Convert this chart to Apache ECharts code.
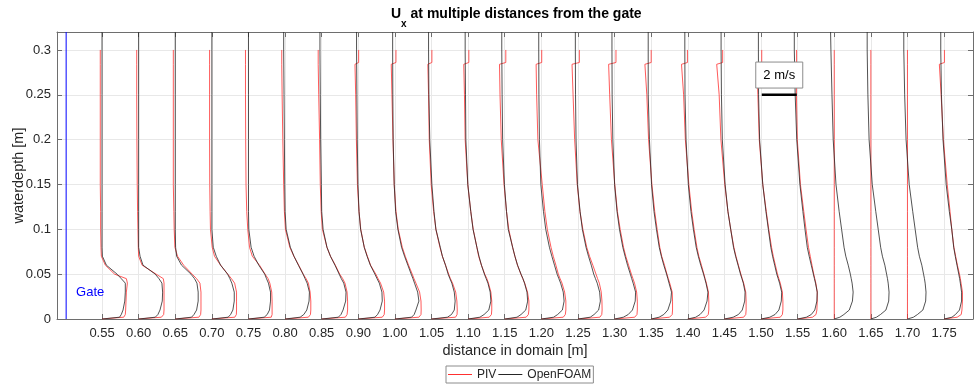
<!DOCTYPE html>
<html>
<head>
<meta charset="utf-8">
<script src="https://cdn.jsdelivr.net/npm/echarts@6/dist/echarts.min.js"></script>
<style>
  html, body { margin: 0; padding: 0; background: #fff; }
  #chart { width: 974px; height: 387px; }
</style>
</head>
<body>
<div id="chart"></div>
<script>
// stations, as printed under the x axis (one profile per station)
const stationLabels = ['0.55', '0.60', '0.65', '0.70', '0.75', '0.80', '0.85', '0.90', '1.00', '1.05', '1.10', '1.15',
  '1.20', '1.25', '1.30', '1.35', '1.40', '1.45', '1.50', '1.55', '1.60', '1.65', '1.70', '1.75']
const yTicks = [0, 0.05, 0.1, 0.15, 0.2, 0.25, 0.3]

// waterdepth levels [m]
const depthOF = [0, 0.002, 0.005, 0.01, 0.02, 0.03, 0.04, 0.045, 0.05, 0.06, 0.07, 0.08, 0.1, 0.12, 0.15, 0.2, 0.25, 0.3, 0.32]
const depthPIV = [0, 0.002, 0.005, 0.01, 0.02, 0.03, 0.04, 0.045, 0.05, 0.06, 0.07, 0.08, 0.1, 0.12, 0.15, 0.2, 0.25, 0.284, 0.286, 0.3]

// Ux [m/s] OpenFOAM, one row per station
const uOpenFOAM = [
  [0, 1.0, 1.1, 1.2, 1.3, 1.33, 1.33, 1.1, 0.86, 0.25, 0.02, 0, 0, 0, 0, 0, 0, 0, 0],
  [0, 0.95, 1.1, 1.22, 1.35, 1.37, 1.33, 1.16, 0.95, 0.25, 0.08, 0, 0, 0, 0, 0, 0, 0, 0],
  [0, 0.93, 1.07, 1.22, 1.31, 1.31, 1.24, 1.1, 0.9, 0.36, 0.08, 0.02, 0, 0, 0, 0, 0, 0, 0],
  [0, 0.93, 1.07, 1.2, 1.28, 1.28, 1.14, 1.03, 0.9, 0.5, 0.25, 0.08, 0, 0, 0, 0, 0, 0, 0],
  [0, 0.9, 1.07, 1.2, 1.26, 1.26, 1.14, 1.03, 0.93, 0.59, 0.32, 0.15, 0.02, 0, 0, 0, 0, 0, 0],
  [0, 0.86, 1.07, 1.24, 1.37, 1.39, 1.26, 1.14, 1.03, 0.76, 0.51, 0.3, 0.06, 0, -0.02, -0.04, -0.06, -0.08, -0.08],
  [0, 0.95, 1.1, 1.22, 1.37, 1.39, 1.26, 1.12, 1.0, 0.76, 0.5, 0.3, 0.08, 0, -0.02, -0.06, -0.08, -0.1, -0.1],
  [0, 0.95, 1.1, 1.24, 1.37, 1.35, 1.2, 1.07, 0.95, 0.69, 0.5, 0.34, 0.13, 0.04, -0.02, -0.06, -0.08, -0.1, -0.1],
  [0, 0.95, 1.1, 1.2, 1.37, 1.3, 1.12, 1.03, 0.93, 0.74, 0.55, 0.38, 0.17, 0.04, -0.04, -0.1, -0.12, -0.13, -0.13],
  [0, 0.91, 1.14, 1.3, 1.35, 1.3, 1.16, 1.05, 0.95, 0.8, 0.62, 0.5, 0.25, 0.14, 0.02, -0.1, -0.15, -0.17, -0.17],
  [0, 0.67, 0.91, 1.18, 1.3, 1.26, 1.13, 1.03, 0.93, 0.76, 0.62, 0.5, 0.28, 0.15, -0.02, -0.13, -0.15, -0.17, -0.17],
  [0, 0.7, 0.93, 1.2, 1.31, 1.27, 1.13, 1.04, 0.93, 0.73, 0.58, 0.45, 0.2, 0.1, -0.02, -0.12, -0.15, -0.17, -0.17],
  [0, 0.7, 0.93, 1.2, 1.3, 1.25, 1.1, 1.0, 0.9, 0.75, 0.6, 0.46, 0.25, 0.12, -0.03, -0.11, -0.14, -0.15, -0.15],
  [0, 0.7, 0.92, 1.18, 1.28, 1.24, 1.1, 1.0, 0.9, 0.76, 0.6, 0.46, 0.25, 0.12, -0.03, -0.11, -0.14, -0.15, -0.15],
  [0, 0.5, 0.78, 1.02, 1.18, 1.2, 1.06, 0.98, 0.9, 0.74, 0.6, 0.47, 0.28, 0.14, 0, -0.1, -0.14, -0.15, -0.15],
  [0, 0.45, 0.72, 0.95, 1.12, 1.16, 1.02, 0.95, 0.88, 0.72, 0.58, 0.46, 0.3, 0.16, 0.02, -0.1, -0.17, -0.17, -0.17],
  [0, 0.45, 0.7, 0.93, 1.1, 1.15, 1.04, 0.97, 0.9, 0.74, 0.6, 0.48, 0.32, 0.18, 0.03, -0.1, -0.16, -0.17, -0.17],
  [0, 0.5, 0.8, 1.02, 1.16, 1.18, 1.08, 1.0, 0.92, 0.78, 0.64, 0.52, 0.36, 0.2, 0.04, -0.12, -0.17, -0.19, -0.19],
  [0, 0.5, 0.8, 1.02, 1.16, 1.18, 1.06, 0.98, 0.9, 0.78, 0.66, 0.56, 0.42, 0.28, 0.1, -0.08, -0.14, -0.15, -0.15],
  [0, 0.5, 0.78, 0.98, 1.1, 1.12, 1.02, 0.96, 0.9, 0.78, 0.66, 0.55, 0.42, 0.3, 0.13, -0.05, -0.14, -0.19, -0.19],
  [0, 0.32, 0.55, 0.86, 1.04, 1.08, 1.02, 0.97, 0.92, 0.8, 0.66, 0.56, 0.42, 0.28, 0.1, -0.06, -0.13, -0.19, -0.21],
  [0, 0.32, 0.55, 0.86, 1.02, 1.04, 0.99, 0.95, 0.9, 0.8, 0.66, 0.56, 0.42, 0.28, 0.08, -0.1, -0.17, -0.21, -0.21],
  [0, 0.34, 0.57, 0.88, 1.04, 1.06, 1.01, 0.97, 0.92, 0.82, 0.68, 0.58, 0.44, 0.3, 0.1, -0.08, -0.16, -0.21, -0.21],
  [0, 0.45, 0.65, 0.88, 1.0, 1.0, 0.93, 0.89, 0.84, 0.74, 0.64, 0.55, 0.44, 0.3, 0.12, -0.06, -0.15, -0.19, -0.19]
]

// Ux [m/s] PIV, one row per station (stations 1.60-1.70 have no PIV data)
const uPIV = [
  [0, 1.24, 1.33, 1.35, 1.37, 1.39, 1.45, 1.39, 0.72, 0.19, -0.04, -0.06, -0.08, -0.08, -0.1, -0.1, -0.1, -0.1, -0.1, -0.1],
  [0, 1.3, 1.43, 1.45, 1.45, 1.45, 1.45, 1.41, 1.0, 0.2, 0, -0.02, -0.04, -0.06, -0.08, -0.1, -0.11, -0.11, -0.11, -0.11],
  [0, 1.35, 1.45, 1.47, 1.47, 1.47, 1.41, 1.22, 0.97, 0.48, 0.13, -0.02, -0.06, -0.08, -0.11, -0.11, -0.11, -0.11, -0.11, -0.11],
  [0, 1.31, 1.4, 1.41, 1.41, 1.41, 1.3, 1.12, 0.91, 0.5, 0.15, 0.02, -0.08, -0.1, -0.12, -0.13, -0.13, -0.13, -0.13, -0.13],
  [0, 1.3, 1.35, 1.35, 1.35, 1.33, 1.22, 1.12, 0.95, 0.63, 0.22, 0.06, -0.04, -0.1, -0.14, -0.16, -0.17, -0.17, -0.17, -0.17],
  [0, 1.33, 1.45, 1.47, 1.47, 1.43, 1.33, 1.2, 1.03, 0.78, 0.5, 0.27, 0.02, -0.04, -0.08, -0.13, -0.17, -0.19, -0.19, -0.19],
  [0, 1.35, 1.45, 1.48, 1.48, 1.45, 1.33, 1.2, 1.03, 0.78, 0.5, 0.3, 0.04, -0.03, -0.08, -0.12, -0.17, -0.2, -0.2, -0.2],
  [0, 1.37, 1.48, 1.5, 1.5, 1.45, 1.27, 1.13, 1.0, 0.7, 0.52, 0.34, 0.14, 0.04, -0.05, -0.11, -0.15, -0.19, 0.02, 0.02],
  [0, 1.37, 1.49, 1.5, 1.49, 1.41, 1.2, 1.09, 0.99, 0.78, 0.59, 0.42, 0.19, 0.06, -0.04, -0.11, -0.17, -0.21, 0.06, 0.06],
  [0, 1.37, 1.46, 1.47, 1.45, 1.38, 1.2, 1.08, 0.98, 0.8, 0.62, 0.48, 0.25, 0.12, -0.02, -0.13, -0.17, -0.21, 0.02, 0.02],
  [0, 1.2, 1.33, 1.35, 1.35, 1.3, 1.16, 1.07, 0.95, 0.76, 0.6, 0.5, 0.29, 0.15, -0.02, -0.17, -0.21, -0.25, 0.04, 0.04],
  [0, 1.22, 1.35, 1.38, 1.38, 1.3, 1.14, 1.03, 0.92, 0.73, 0.58, 0.45, 0.23, 0.1, -0.04, -0.2, -0.27, -0.3, 0.06, 0.06],
  [0, 1.25, 1.37, 1.4, 1.4, 1.33, 1.18, 1.07, 0.97, 0.83, 0.68, 0.55, 0.34, 0.2, 0.05, -0.2, -0.27, -0.3, 0.02, 0.02],
  [0, 1.25, 1.36, 1.38, 1.37, 1.33, 1.22, 1.12, 1.03, 0.85, 0.66, 0.5, 0.28, 0.11, -0.04, -0.19, -0.28, -0.34, 0.08, 0.08],
  [0, 1.15, 1.28, 1.3, 1.3, 1.26, 1.14, 1.05, 0.96, 0.8, 0.64, 0.51, 0.32, 0.16, 0.01, -0.18, -0.28, -0.34, 0.08, 0.08],
  [0, 1.05, 1.2, 1.22, 1.22, 1.2, 1.06, 0.98, 0.9, 0.76, 0.6, 0.49, 0.34, 0.2, 0.04, -0.15, -0.25, -0.36, 0, 0],
  [0, 1.02, 1.17, 1.2, 1.2, 1.18, 1.06, 0.99, 0.92, 0.78, 0.63, 0.52, 0.36, 0.22, 0.06, -0.14, -0.24, -0.36, -0.02, -0.02],
  [0, 1.1, 1.22, 1.24, 1.24, 1.22, 1.1, 1.02, 0.94, 0.8, 0.66, 0.54, 0.36, 0.2, 0.02, -0.2, -0.3, -0.44, -0.1, -0.1],
  [0, 1.1, 1.22, 1.25, 1.25, 1.22, 1.1, 1.02, 0.94, 0.82, 0.7, 0.6, 0.44, 0.3, 0.1, -0.1, -0.18, -0.24, 0.04, 0.04],
  [0, 0.85, 1.05, 1.1, 1.12, 1.12, 1.04, 0.98, 0.92, 0.82, 0.72, 0.62, 0.48, 0.35, 0.16, -0.02, -0.07, -0.06, -0.06, -0.06],
  [0, 0, 0, 0, 0, 0, 0, 0, 0, 0, 0, 0, 0, 0, 0, 0, 0, 0, 0, 0],
  [0, 0, 0, 0, 0, 0, 0, 0, 0, 0, 0, 0, 0, 0, 0, 0, 0, 0, 0, 0],
  [0, 0, 0, 0, 0, 0, 0, 0, 0, 0, 0, 0, 0, 0, 0, 0, 0, 0, 0, 0],
  [0, 0.75, 0.98, 1.02, 1.05, 1.05, 0.97, 0.93, 0.88, 0.76, 0.66, 0.56, 0.44, 0.34, 0.18, -0.04, -0.17, -0.27, 0.02, 0.02]
]

const speedScale = 0.478      // station spacings per 1 m/s
const scaleBarSpeed = 2        // m/s
const scaleBarAt = [18.02, 0.25]
const gateStation = -0.98
const fontFamily = '"Liberation Sans", Arial, Helvetica, sans-serif'
const textColor = '#262626'
const axisColor = '#6e6e6e'
const pivColor = '#ff3030'
const ofColor = '#262626'

const chart = echarts.init(document.getElementById('chart'))

let stationIdx = stationLabels.map((s, i) => i)
let series = []
stationLabels.forEach((label, i) => {
  series.push({
    name: 'PIV',
    type: 'line',
    symbol: 'none',
    silent: true,
    z: 3,
    lineStyle: { color: pivColor, width: 0.8 },
    itemStyle: { color: pivColor },
    data: depthPIV.map((y, k) => [i + uPIV[i][k] * speedScale, y])
  })
  series.push({
    name: 'OpenFOAM',
    type: 'line',
    symbol: 'none',
    silent: true,
    z: 4,
    lineStyle: { color: ofColor, width: 0.8 },
    itemStyle: { color: ofColor },
    data: depthOF.map((y, k) => [i + uOpenFOAM[i][k] * speedScale, y])
  })
})
// gate
series.push({
  type: 'line', symbol: 'none', silent: true, z: 5,
  lineStyle: { color: '#0000ff', width: 1 },
  data: [[gateStation, 0], [gateStation, 0.32]]
})
// 2 m/s scale bar
series.push({
  type: 'line', symbol: 'none', silent: true, z: 6,
  lineStyle: { color: '#000', width: 2.5, cap: 'butt' },
  data: [scaleBarAt, [scaleBarAt[0] + scaleBarSpeed * speedScale, scaleBarAt[1]]]
})

let option = {
  animation: false,
  backgroundColor: '#fff',
  title: {
    text: '{b|U}{s|x}{b| at multiple distances from the gate}',
    left: 386,
    top: 2,
    textStyle: {
      rich: {
        b: { fontFamily: fontFamily, fontSize: 14, fontWeight: 'bold', color: '#000', lineHeight: 18, verticalAlign: 'top' },
        s: { fontFamily: fontFamily, fontSize: 10, fontWeight: 'bold', color: '#000', lineHeight: 10, padding: [12, 0, 0, 0], verticalAlign: 'top' }
      }
    }
  },
  legend: {
    data: [
      { name: 'PIV', icon: 'rect', itemStyle: { color: pivColor } },
      { name: 'OpenFOAM', icon: 'rect', itemStyle: { color: ofColor } }
    ],
    left: 446,
    top: 366,
    itemWidth: 24,
    itemHeight: 1,
    itemGap: 2,
    padding: [2, 2, 2, 2],
    borderColor: '#8c8c8c',
    borderWidth: 1,
    backgroundColor: '#fff',
    textStyle: { fontFamily: fontFamily, fontSize: 12, color: textColor, lineHeight: 13 }
  },
  grid: { left: 57, right: 1, top: 32, bottom: 68, outerBoundsMode: 'none', containLabel: false },
  xAxis: [{
    type: 'value',
    min: -1.23,
    max: 23.79,
    name: 'distance in domain [m]',
    nameLocation: 'middle',
    nameGap: 24,
    nameMoveOverlap: false,
    nameTextStyle: { fontFamily: fontFamily, fontSize: 14.5, color: textColor },
    axisLine: { onZero: false, lineStyle: { color: axisColor } },
    axisTick: { customValues: stationIdx, inside: true, length: 5, lineStyle: { color: axisColor } },
    axisLabel: {
      customValues: stationIdx,
      margin: 8,
      fontFamily: fontFamily, fontSize: 13, color: textColor,
      formatter: v => stationLabels[Math.round(v)]
    },
    splitLine: { show: true, lineStyle: { color: '#e8e8e8' } }
  }, {
    type: 'value',
    position: 'top',
    min: -1.23,
    max: 23.79,
    axisLine: { onZero: false, lineStyle: { color: axisColor } },
    axisTick: { customValues: stationIdx, inside: true, length: 5, lineStyle: { color: axisColor } },
    axisLabel: { show: false },
    splitLine: { show: false }
  }],
  yAxis: [{
    type: 'value',
    min: 0,
    max: 0.32,
    name: 'waterdepth [m]',
    nameLocation: 'middle',
    nameGap: 31,
    nameMoveOverlap: false,
    nameTextStyle: { fontFamily: fontFamily, fontSize: 14.5, color: textColor },
    axisLine: { show: true, onZero: false, lineStyle: { color: axisColor } },
    axisTick: { show: true, customValues: yTicks, inside: true, length: 5, lineStyle: { color: axisColor } },
    axisLabel: {
      customValues: yTicks,
      margin: 6,
      fontFamily: fontFamily, fontSize: 13, color: textColor,
      formatter: v => String(+v.toFixed(2))
    },
    splitLine: { show: true, lineStyle: { color: '#e8e8e8' } }
  }, {
    type: 'value',
    position: 'right',
    min: 0,
    max: 0.32,
    axisLine: { show: true, onZero: false, lineStyle: { color: axisColor } },
    axisTick: { show: true, customValues: yTicks, inside: true, length: 5, lineStyle: { color: axisColor } },
    axisLabel: { show: false },
    splitLine: { show: false }
  }],
  series: series
}
chart.setOption(option)

// annotations placed in data space
const boxCenter = chart.convertToPixel({ gridIndex: 0 }, [scaleBarAt[0] + scaleBarSpeed * speedScale / 2, 0.272])
const gateLabel = chart.convertToPixel({ gridIndex: 0 }, [gateStation + 0.27, 0.03])
chart.setOption({
  graphic: [
    {
      type: 'rect', z: 100,
      shape: { x: boxCenter[0] - 23.5, y: boxCenter[1] - 13, width: 47, height: 26 },
      style: { fill: '#fff', stroke: '#8c8c8c', lineWidth: 1 }
    },
    {
      type: 'text', z: 101,
      x: boxCenter[0], y: boxCenter[1],
      style: { text: scaleBarSpeed + ' m/s', fontFamily: fontFamily, fontSize: 13, fill: '#000', align: 'center', verticalAlign: 'middle' }
    },
    {
      type: 'text', z: 101,
      x: gateLabel[0], y: gateLabel[1],
      style: { text: 'Gate', fontFamily: fontFamily, fontSize: 13, fill: '#0000ff', align: 'left', verticalAlign: 'middle' }
    }
  ]
})
</script>
</body>
</html>
